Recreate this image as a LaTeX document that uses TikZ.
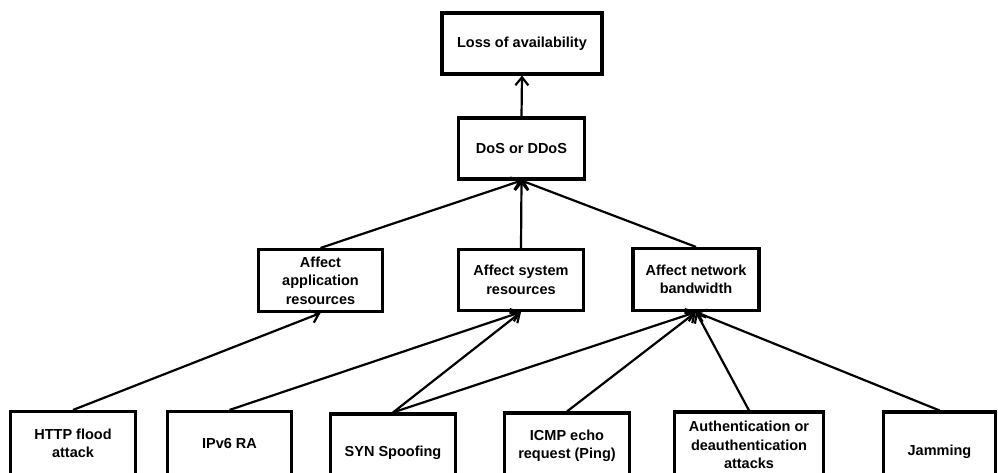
\documentclass[tikz,border=0pt]{standalone}
\usepackage{fontspec}
\setmainfont{Liberation Sans}
\usetikzlibrary{arrows.meta}
\begin{document}
\begin{tikzpicture}[x=1pt,y=-1pt,
  box/.style={draw=black, line width=3.1pt, align=center, inner sep=2pt,
    font=\fontsize{14.5}{18.5}\selectfont\bfseries, text=black},
  conn/.style={line width=2.2pt, -{Straight Barb[length=8pt,width=13pt,line width=2.2pt]}}]
\useasboundingbox (0,0) rectangle (998,473);
% top levels
\node[box, minimum width=160pt, minimum height=61pt] (loss) at (522,43.5) {Loss of availability};
\node[box, minimum width=126pt, minimum height=61pt] (dos) at (521.5,148.5) {DoS or DDoS};
% middle row
\node[box, minimum width=124pt, minimum height=62pt] (app) at (320.5,280.5) {Affect\\application\\resources};
\node[box, minimum width=125pt, minimum height=61pt] (sys) at (521,280) {Affect system\\resources};
\node[box, minimum width=126pt, minimum height=62pt] (net) at (696,279.5) {Affect network\\bandwidth};
% bottom row
\node[box, minimum width=125pt, minimum height=64pt] (http) at (73,443.5) {HTTP flood\\attack};
\node[box, minimum width=124pt, minimum height=64pt] (ipv6) at (229.5,443.5) {IPv6 RA};
\node[box, minimum width=125pt, minimum height=78pt] (syn) at (393,453) {SYN Spoofing};
\node[box, minimum width=125pt, minimum height=66pt] (icmp) at (567,446) {ICMP echo\\request (Ping)};
\node[box, minimum width=149pt, minimum height=66pt] (auth) at (749,445) {Authentication or\\deauthentication\\attacks};
\node[box, minimum width=112pt, minimum height=80pt] (jam) at (939.5,452) {Jamming};
% connectors
\draw[conn] (dos.north) -- (loss.south);
\draw[conn] (app.north) -- (dos.south);
\draw[conn] (sys.north) -- (dos.south);
\draw[conn] (net.north) -- (dos.south);
\draw[conn] (http.north) -- (app.south);
\draw[conn] (ipv6.north) -- (sys.south);
\draw[conn] (syn.north) -- (sys.south);
\draw[conn] (syn.north) -- (net.south);
\draw[conn] (icmp.north) -- (net.south);
\draw[conn] (auth.north) -- (net.south);
\draw[conn] (jam.north) -- (net.south);
\end{tikzpicture}
\end{document}
